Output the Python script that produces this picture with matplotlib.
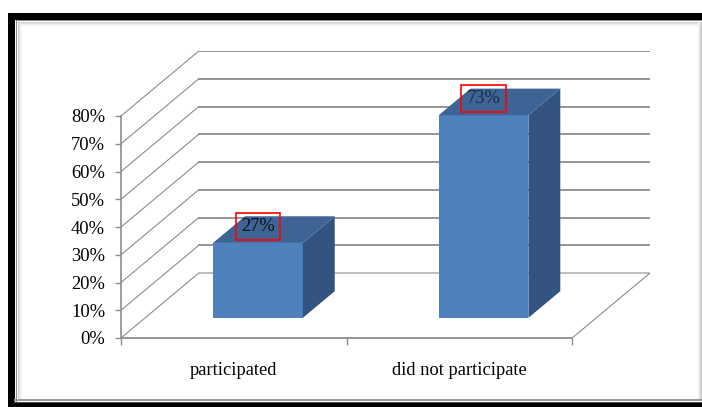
import matplotlib
matplotlib.use("Agg")
import matplotlib.pyplot as plt
from matplotlib.patches import Polygon, Rectangle

categories = ["participated", "did not participate"]
shares = [27, 73]
ytick_values = [0, 10, 20, 30, 40, 50, 60, 70, 80]
ytick_labels = ["0%", "10%", "20%", "30%", "40%", "50%", "60%", "70%", "80%"]

W, H = 702, 407
plt.rcParams["font.family"] = ["Liberation Serif", "DejaVu Serif"]

fig = plt.figure(figsize=(W / 100, H / 100), dpi=100)
fig.patch.set_facecolor("white")

# picture frame around the chart
bg = fig.add_axes([0, 0, 1, 1])
bg.set_xlim(0, W)
bg.set_ylim(H, 0)
bg.axis("off")
for k, g in enumerate(["#d0d0d0", "#e2e2e2", "#efefef", "#f7f7f7"]):
    bg.add_patch(Rectangle((18 + k, 22 + k), W, 1, color=g, lw=0))
    bg.add_patch(Rectangle((18 + k, 22 + k), 1, 376, color=g, lw=0))
for k, g in enumerate(["#f4f4f4", "#e6e6e6", "#d6d6d6", "#c8c8c8"]):
    bg.add_patch(Rectangle((698 + k, 22), 1, 378, color=g, lw=0))
bg.add_patch(Rectangle((8, 13), W, 6.5, color="black", lw=0))
bg.add_patch(Rectangle((8, 13), 6.5, H, color="black", lw=0))
bg.add_patch(Rectangle((15.5, 20), W, 1.3, color="#8a8a8a", lw=0))
bg.add_patch(Rectangle((15.5, 20), 1.3, 382, color="#8a8a8a", lw=0))
bg.add_patch(Rectangle((14, 399), W, 1.5, color="#9a9a9a", lw=0))
bg.add_patch(Rectangle((14, 401.5), W, 1.2, color="#505050", lw=0))
bg.add_patch(Rectangle((8, 403), W, 4, color="black", lw=0))

# plot area: x in category units, y in percent
DX = 78 / 226      # depth shift along x (category units)
DY = 65 / 2.775    # depth shift along y (percent units)
ax = fig.add_axes([121 / W, (H - 338) / H, (650 - 121) / W, (338 - 51) / H])
ax.set_xlim(-0.5, 1.5 + DX)
ax.set_ylim(0, 80 + DY)
ax.patch.set_alpha(0)


def proj(x, v, d):
    return (x + d * DX, v + d * DY)


grid_c = "#8c8c8c"
for v in ytick_values[1:]:
    ax.plot([-0.5, -0.5 + DX], [v, v + DY], color=grid_c, lw=0.8, zorder=1)
    ax.plot([-0.5 + DX, 1.5 + DX], [v + DY, v + DY], color=grid_c, lw=1.3, zorder=1)
# floor outline
ax.plot([-0.5, -0.5 + DX, 1.5 + DX, 1.5], [0, DY, DY, 0], color=grid_c, lw=0.8, zorder=1)

# 3D bars
bw = 0.398
d0, d1 = 0.31, 0.72
for i, v in enumerate(shares):
    x0, x1 = i - bw / 2, i + bw / 2
    front = [proj(x0, 0, d0), proj(x1, 0, d0), proj(x1, v, d0), proj(x0, v, d0)]
    side = [proj(x1, 0, d0), proj(x1, 0, d1), proj(x1, v, d1), proj(x1, v, d0)]
    top = [proj(x0, v, d0), proj(x1, v, d0), proj(x1, v, d1), proj(x0, v, d1)]
    ax.add_patch(Polygon(front, closed=True, fc="#4f81bd", ec="none", zorder=3))
    ax.add_patch(Polygon(side, closed=True, fc="#335481", ec="none", zorder=3))
    ax.add_patch(Polygon(top, closed=True, fc="#3e6496", ec="none", zorder=3))
    lx, ly = proj(i, v, d0)
    ax.text(lx, ly + 6, f"{v}%", ha="center", va="center", fontsize=13.3,
            color="#111111" if v < 50 else "#1c2c44", zorder=5,
            bbox=dict(boxstyle="square,pad=0.28", fc="none", ec="#ff0000", lw=1.2))

# axes
for s in ["top", "right"]:
    ax.spines[s].set_visible(False)
ax.spines["left"].set_bounds(0, 80)
ax.spines["bottom"].set_bounds(-0.5, 1.5)
ax.spines["left"].set_color("#8c8c8c")
ax.spines["bottom"].set_color("#8c8c8c")
ax.spines["left"].set_linewidth(1.2)
ax.spines["bottom"].set_linewidth(1.3)

ax.set_yticks(ytick_values)
ax.set_yticklabels(ytick_labels, fontsize=13.3)
ax.tick_params(axis="y", length=4.5, width=1, color="#8c8c8c", pad=7)
ax.set_xticks([-0.5, 0.5, 1.5])
ax.set_xticklabels(["", "", ""])
ax.tick_params(axis="x", which="major", length=5, width=1, color="#8c8c8c")
ax.set_xticks([0, 1], minor=True)
ax.set_xticklabels(categories, minor=True, fontsize=13.3)
ax.tick_params(axis="x", which="minor", length=0, pad=17)

fig.savefig("out.png", dpi=100)
